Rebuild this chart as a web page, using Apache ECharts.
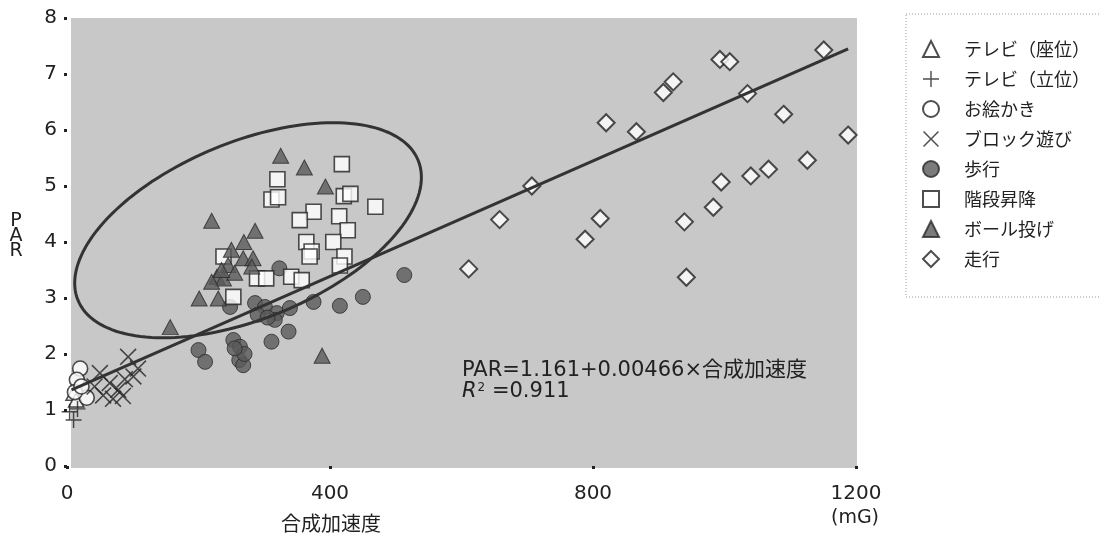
<!DOCTYPE html>
<html><head><meta charset="utf-8">
<script src="https://cdn.jsdelivr.net/npm/echarts@6/dist/echarts.min.js"></script>
<style>html,body{margin:0;padding:0;background:#fff}#c{width:1101px;height:539px}</style>
</head><body><div id="c"></div>
<script>
// ---- data (x: 合成加速度 mG, y: PAR) ----
const xTickValues = [0, 400, 800, 1200];
const yTickValues = [0, 1, 2, 3, 4, 5, 6, 7, 8];
const seriesNames = ['テレビ（座位）','テレビ（立位）','お絵かき','ブロック遊び','歩行','階段昇降','ボール投げ','走行'];

const tvSitting = [[10,1.30],[14,1.18]];
const tvStanding = [[4,0.97],[10,0.82],[16,1.02]];
const drawing = [[20,1.74],[15,1.54],[30,1.22],[12,1.32],[22,1.42]];
const blockPlay = [[93,1.95],[50,1.66],[65,1.48],[78,1.36],[55,1.26],[101,1.60],[108,1.74],[42,1.42],[85,1.25],[70,1.20],[88,1.55]];
const walking = [[248,2.84],[286,2.91],[301,2.84],[319,2.73],[316,2.61],[323,3.53],[339,2.82],[375,2.93],[337,2.40],[311,2.22],[253,2.25],[263,2.13],[262,1.89],[268,1.80],[200,2.07],[210,1.86],[415,2.86],[450,3.02],[513,3.41],[270,2.00],[255,2.10],[290,2.70],[305,2.65]];
const stairs = [[418,5.39],[320,5.12],[311,4.76],[321,4.80],[421,4.82],[431,4.86],[469,4.63],[375,4.54],[354,4.39],[414,4.46],[427,4.21],[405,4.00],[364,4.00],[372,3.83],[369,3.74],[422,3.74],[415,3.58],[341,3.38],[357,3.32],[238,3.74],[289,3.35],[303,3.35],[253,3.02]];
const ballThrow = [[325,5.54],[361,5.33],[393,4.99],[220,4.38],[286,4.20],[269,4.00],[250,3.86],[268,3.71],[283,3.71],[245,3.59],[228,3.38],[238,3.35],[220,3.29],[201,2.99],[230,2.99],[281,3.56],[157,2.48],[388,1.97],[255,3.45],[235,3.50]];
const running = [[1151,7.43],[993,7.26],[1008,7.22],[922,6.86],[907,6.67],[820,6.13],[866,5.97],[1035,6.65],[1090,6.28],[1188,5.91],[1126,5.46],[1067,5.30],[1040,5.18],[995,5.07],[983,4.62],[939,4.36],[811,4.42],[788,4.05],[942,3.37],[707,5.00],[658,4.40],[611,3.52]];

const regressionLine = [[7,1.36],[1188,7.45]];
const ellipseAxisStart = [16.7,2.96];
const ellipseAxisEnd = [534,5.46];
const ellipseRatio = 0.48;

const eqLine1 = 'PAR=1.161+0.00466×合成加速度';
const eqLine2 = '=0.911';

// ---- styles ----
const INK = '#222';
const DARK = '#5a5a5a';
const NUM_FONT = '"DejaVu Sans", sans-serif';
const JP_FONT = '"Noto Sans CJK JP", sans-serif';
const plusPath = 'path://M-0.9,-10 L0.9,-10 L0.9,-0.9 L10,-0.9 L10,0.9 L0.9,0.9 L0.9,10 L-0.9,10 L-0.9,0.9 L-10,0.9 L-10,-0.9 L-0.9,-0.9 Z';
const crossPath = 'path://M-10,-8.7 L-8.7,-10 L0,-1.3 L8.7,-10 L10,-8.7 L1.3,0 L10,8.7 L8.7,10 L0,1.3 L-8.7,10 L-10,8.7 L-1.3,0 Z';

function scatter(name, data, symbol, size, itemStyle, z) {
  return { name, type: 'scatter', data, symbol, symbolSize: size, itemStyle, z: z || 3, emphasis: { disabled: true } };
}
const openStyle = { color: '#fff', borderColor: INK, borderWidth: 1.6 };
const filledStyle = { color: DARK, borderColor: '#2a2a2a', borderWidth: 1 };

const chart = echarts.init(document.getElementById('c'), null, { renderer: 'canvas' });
chart.setOption({
  animation: false,
  backgroundColor: '#fff',
  grid: { left: 67, top: 18, width: 789, height: 448, containLabel: false },
  xAxis: {
    type: 'value', min: 0, max: 1200, interval: 400, offset: 6,
    axisLine: { show: false }, splitLine: { show: false },
    axisTick: { show: true, length: 3, lineStyle: { color: INK, width: 3 } },
    axisLabel: { margin: 12, fontSize: 20, color: INK, fontFamily: NUM_FONT,
      formatter: function (v) { return String(v); } },
  },
  yAxis: {
    type: 'value', min: 0, max: 8, interval: 1,
    axisLine: { show: false }, splitLine: { show: false },
    axisTick: { show: true, length: 3, lineStyle: { color: INK, width: 3 } },
    axisLabel: { margin: 10, fontSize: 20, color: INK, fontFamily: NUM_FONT,
      formatter: function (v) { return String(v); } },
  },
  legend: {
    orient: 'vertical', left: 917, top: 35, itemWidth: 16, itemHeight: 16, itemGap: 12,
    selectedMode: false, data: seriesNames,
    textStyle: { fontSize: 18, lineHeight: 16, color: INK, fontFamily: JP_FONT, padding: [0,0,0,20] },
  },
  graphic: [
    { type: 'rect', silent: true, z: -10, shape: { x: 71, y: 18, width: 786, height: 450 },
      style: { fill: '#c8c8c8' } },
    { type: 'rect', silent: true, shape: { x: 906, y: 14, width: 210, height: 283 },
      style: { fill: 'none', stroke: '#9a9a9a', lineWidth: 1, lineDash: [1, 2] } },
    { type: 'text', silent: true, x: 16, y: 214,
      style: { text: 'P\nA\nR', font: '19px ' + NUM_FONT, lineHeight: 15, align: 'center', verticalAlign: 'top', fill: INK } },
    { type: 'text', silent: true, x: 331, y: 523,
      style: { text: '合成加速度', font: '20px ' + JP_FONT, align: 'center', verticalAlign: 'middle', fill: INK } },
    { type: 'text', silent: true, x: 855, y: 518,
      style: { text: '(mG)', font: '19px ' + NUM_FONT, align: 'center', verticalAlign: 'middle', fill: INK } },
    { type: 'text', silent: true, z: 10, x: 462, y: 371,
      style: { text: eqLine1, font: '21px "DejaVu Sans", "Noto Sans CJK JP", sans-serif', verticalAlign: 'middle', fill: INK } },
    { type: 'text', silent: true, z: 10, x: 462, y: 392,
      style: { text: '{i|R}{s|2}{n| ' + eqLine2 + '}', verticalAlign: 'middle', fill: INK,
        rich: {
          i: { fontSize: 21, fontStyle: 'italic', fontFamily: NUM_FONT, fill: INK },
          s: { fontSize: 12, fontFamily: NUM_FONT, fill: INK, verticalAlign: 'top', padding: [0,0,8,1] },
          n: { fontSize: 21, fontFamily: NUM_FONT, fill: INK }
        } } },
  ],
  series: [
    scatter(seriesNames[0], tvSitting, 'triangle', [15, 14], openStyle, 4),
    scatter(seriesNames[1], tvStanding, plusPath, 16, { color: INK }, 4),
    scatter(seriesNames[2], drawing, 'circle', 15, openStyle, 4),
    scatter(seriesNames[3], blockPlay, crossPath, 17, { color: INK }, 4),
    scatter(seriesNames[4], walking, 'circle', 15, filledStyle, 3),
    scatter(seriesNames[5], stairs, 'rect', 15, openStyle, 3),
    scatter(seriesNames[6], ballThrow, 'triangle', [16, 15], filledStyle, 3),
    scatter(seriesNames[7], running, 'diamond', 17, { color: '#fff', borderColor: INK, borderWidth: 2 }, 3),
    { type: 'line', data: regressionLine, symbol: 'none', z: 5, silent: true,
      lineStyle: { color: '#333', width: 3 } },
    { type: 'custom', coordinateSystem: 'cartesian2d', z: 5, silent: true, clip: false,
      data: [[0, 0]],
      renderItem: function (params, api) {
        const p1 = api.coord(ellipseAxisStart), p2 = api.coord(ellipseAxisEnd);
        const cx = (p1[0] + p2[0]) / 2, cy = (p1[1] + p2[1]) / 2;
        const dx = p2[0] - p1[0], dy = p2[1] - p1[1];
        const a = Math.hypot(dx, dy) / 2, b = a * ellipseRatio, th = Math.atan2(dy, dx);
        const pts = [];
        for (let i = 0; i < 160; i++) {
          const t = i / 160 * 2 * Math.PI;
          const ex = a * Math.cos(t), ey = b * Math.sin(t);
          pts.push([cx + ex * Math.cos(th) - ey * Math.sin(th), cy + ex * Math.sin(th) + ey * Math.cos(th)]);
        }
        return { type: 'polygon', shape: { points: pts }, style: { fill: 'none', stroke: '#333', lineWidth: 3 } };
      } },
  ],
});
</script></body></html>
